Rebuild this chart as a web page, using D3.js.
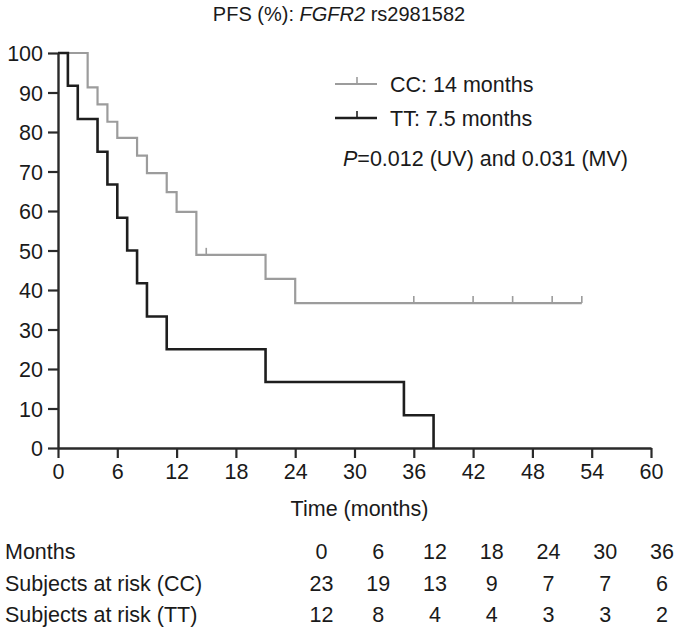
<!DOCTYPE html>
<html>
<head>
<meta charset="utf-8">
<script src="https://cdn.jsdelivr.net/npm/d3@7"></script>
<style>
  html, body { margin: 0; padding: 0; background: #fff; }
  svg { display: block; }
  text { font-family: "Liberation Sans", Arial, Helvetica, sans-serif; fill: #1a1a1a; }
</style>
</head>
<body>
<script>
// ---- data ----
const ccTimes = [0, 3, 4, 5, 6, 8, 9, 11, 12, 14, 21, 24, 53];
const ccSurv  = [100, 91.3, 87.0, 82.6, 78.5, 74.0, 69.6, 64.8, 59.8, 48.9, 42.8, 36.7, 36.7];
const ccCensor = [15, 36, 42, 46, 50, 53];

const ttTimes = [0, 1, 2, 4, 5, 6, 7, 8, 9, 11, 21, 35, 38];
const ttSurv  = [100, 91.7, 83.3, 75, 66.7, 58.3, 50, 41.7, 33.3, 25, 16.7, 8.3, 0];
const ttCensor = [];

const xTicks = [0, 6, 12, 18, 24, 30, 36, 42, 48, 54, 60];
const yTicks = [0, 10, 20, 30, 40, 50, 60, 70, 80, 90, 100];

const riskMonths = [0, 6, 12, 18, 24, 30, 36];
const riskCC = [23, 19, 13, 9, 7, 7, 6];
const riskTT = [12, 8, 4, 4, 3, 3, 2];
const riskRowLabels = ["Months", "Subjects at risk (CC)", "Subjects at risk (TT)"];

const legendLabels = ["CC: 14 months", "TT: 7.5 months"];

// ---- drawing ----
const W = 678, H = 628;
const svg = d3.select("body").append("svg").attr("width", W).attr("height", H);

const x = d3.scaleLinear().domain([0, 60]).range([58, 651]);
const y = d3.scaleLinear().domain([0, 100]).range([448, 53]);

const FS = 21.5;
const gray = "#9c9c9c", dark = "#1e1e1e";

// title
const title = svg.append("text").attr("x", 339).attr("y", 21).attr("text-anchor", "middle")
  .style("font-size", "20px");
title.append("tspan").text("PFS (%): ");
title.append("tspan").style("font-style", "italic").text("FGFR2");
title.append("tspan").text(" rs2981582");

// axes
const xAxis = d3.axisBottom(x).tickValues(xTicks).tickSize(10).tickPadding(6).tickSizeOuter(0);
const yAxis = d3.axisLeft(y).tickValues(yTicks).tickSize(10).tickPadding(5).tickSizeOuter(0);

const gx = svg.append("g").attr("transform", `translate(0,${y(0)})`).call(xAxis);
const gy = svg.append("g").attr("transform", `translate(${x(0)},0)`).call(yAxis);
[gx, gy].forEach(g => {
  g.select(".domain").attr("stroke", "#2a2a2a").attr("stroke-width", 2.4);
  g.selectAll(".tick line").attr("stroke", "#2a2a2a").attr("stroke-width", 2.2);
  g.selectAll(".tick text").style("font-size", FS + "px").attr("fill", "#1a1a1a")
    .style("font-family", "'Liberation Sans', Arial, Helvetica, sans-serif");
});
gy.selectAll(".tick text").attr("dy", "0.36em");

svg.append("text").attr("x", x(30) + 5).attr("y", 516).attr("text-anchor", "middle")
  .style("font-size", FS + "px").text("Time (months)");

// curves
const line = d3.line().x(d => x(d[0])).y(d => y(d[1])).curve(d3.curveStepAfter);

function stepValue(times, surv, t) {
  let v = surv[0];
  for (let i = 0; i < times.length; i++) if (times[i] <= t) v = surv[i];
  return v;
}

function drawCurve(times, surv, censor, color, width) {
  const pts = times.map((t, i) => [t, surv[i]]);
  svg.append("path").datum(pts).attr("d", line).attr("fill", "none")
    .attr("stroke", color).attr("stroke-width", width).attr("stroke-linejoin", "miter");
  svg.selectAll(null).data(censor).enter().append("line")
    .attr("x1", d => x(d)).attr("x2", d => x(d))
    .attr("y1", d => y(stepValue(times, surv, d)))
    .attr("y2", d => y(stepValue(times, surv, d)) - 7)
    .attr("stroke", color).attr("stroke-width", 1.6);
}

drawCurve(ccTimes, ccSurv, ccCensor, gray, 2.2);
drawCurve(ttTimes, ttSurv, ttCensor, dark, 2.6);

// legend
const legend = [
  { label: legendLabels[0], color: gray, w: 2.2, y: 84 },
  { label: legendLabels[1], color: dark, w: 2.6, y: 118 }
];
legend.forEach(l => {
  svg.append("line").attr("x1", 335).attr("x2", 377).attr("y1", l.y).attr("y2", l.y)
    .attr("stroke", l.color).attr("stroke-width", l.w);
  svg.append("line").attr("x1", 357).attr("x2", 357).attr("y1", l.y).attr("y2", l.y - 7)
    .attr("stroke", l.color).attr("stroke-width", 1.6);
  svg.append("text").attr("x", 390).attr("y", l.y + 7.5).style("font-size", FS + "px").text(l.label);
});
const pt = svg.append("text").attr("x", 343).attr("y", 166).style("font-size", FS + "px");
pt.append("tspan").style("font-style", "italic").text("P");
pt.append("tspan").text("=0.012 (UV) and 0.031 (MV)");

// risk table
const col = d3.scaleLinear().domain([0, 36]).range([321.5, 662]);
const rows = [riskMonths, riskCC, riskTT];
const rowY = [559, 591, 622];
rows.forEach((r, i) => {
  svg.append("text").attr("x", 5).attr("y", rowY[i]).style("font-size", FS + "px").text(riskRowLabels[i]);
  svg.selectAll(null).data(r).enter().append("text")
    .attr("x", (d, j) => col(riskMonths[j])).attr("y", rowY[i])
    .attr("text-anchor", "middle").style("font-size", FS + "px").text(d => d);
});
</script>
</body>
</html>
